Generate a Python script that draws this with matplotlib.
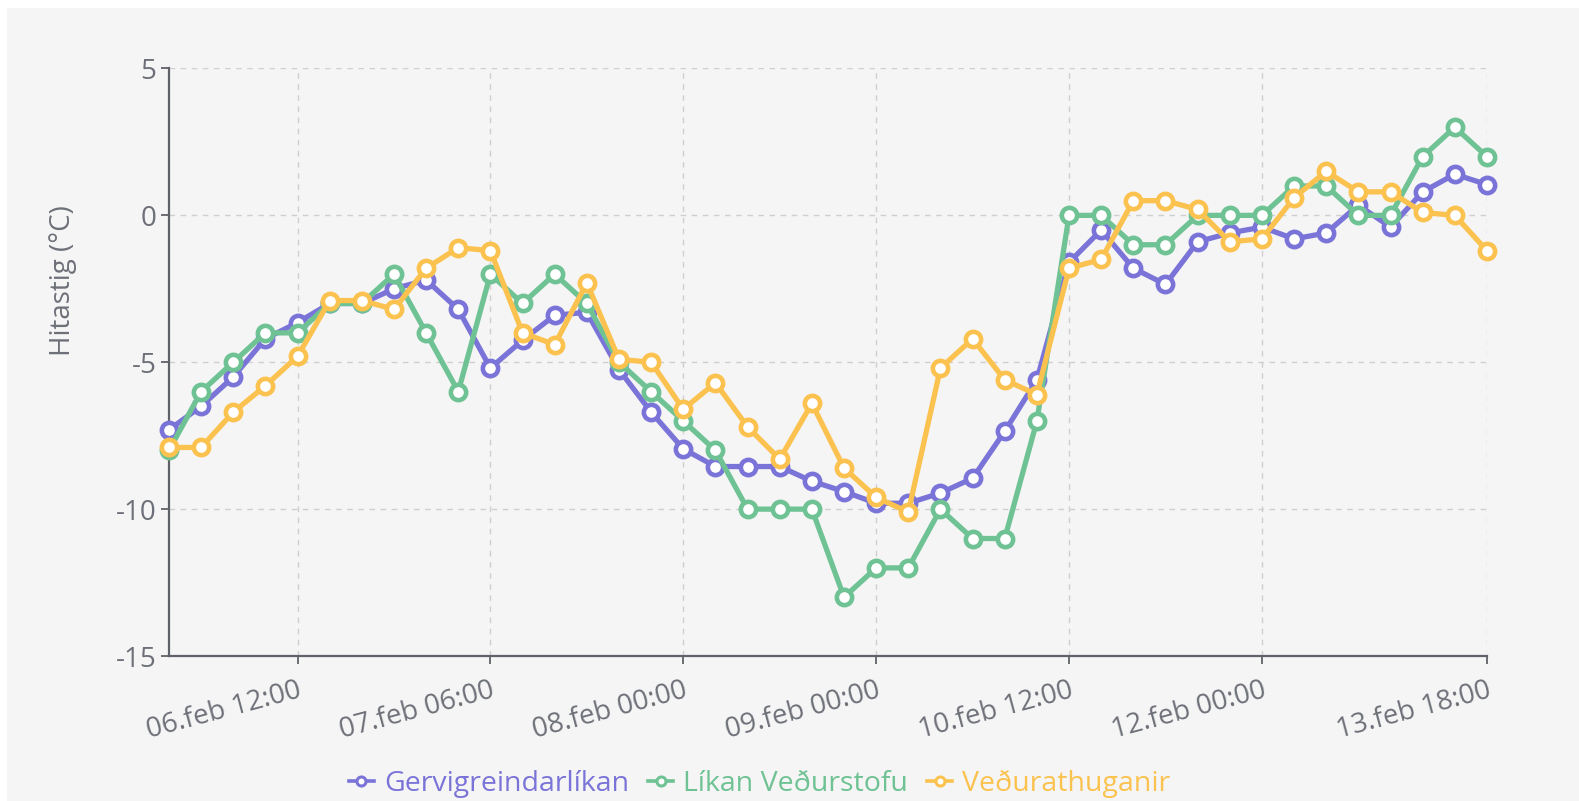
import matplotlib
matplotlib.use("Agg")
import matplotlib.pyplot as plt
from matplotlib.patches import Rectangle
from matplotlib.lines import Line2D

plt.rcParams["font.family"] = ["Open Sans", "DejaVu Sans"]
plt.rcParams["axes.unicode_minus"] = False

# temperature series, one value per forecast step (42 steps)
gervigreind = [
    -7.3, -6.5, -5.5, -4.2, -3.65, -3.0, -3.0, -2.5, -2.2, -3.2,
    -5.2, -4.25, -3.4, -3.3, -5.25, -6.7, -7.95, -8.55, -8.55, -8.55,
    -9.05, -9.4, -9.8, -9.8, -9.45, -8.95, -7.35, -5.6, -1.6, -0.5,
    -1.8, -2.35, -0.9, -0.6, -0.4, -0.8, -0.6, 0.35, -0.4, 0.8,
    1.4, 1.05,
]
likan_vedurstofu = [
    -8, -6, -5, -4, -4, -3, -3, -2, -4, -6,
    -2, -3, -2, -3, -5, -6, -7, -8, -10, -10,
    -10, -13, -12, -12, -10, -11, -11, -7, 0, 0,
    -1, -1, 0, 0, 0, 1, 1, 0, 0, 2,
    3, 2,
]
vedurathuganir = [
    -7.9, -7.9, -6.7, -5.8, -4.8, -2.9, -2.9, -3.2, -1.8, -1.1,
    -1.2, -4.0, -4.4, -2.3, -4.9, -5.0, -6.6, -5.7, -7.2, -8.3,
    -6.4, -8.6, -9.6, -10.1, -5.2, -4.2, -5.6, -6.1, -1.8, -1.5,
    0.5, 0.5, 0.2, -0.9, -0.8, 0.6, 1.5, 0.8, 0.8, 0.1,
    0.0, -1.2,
]
series_names = ["Gervigreindarlíkan", "Líkan Veðurstofu", "Veðurathuganir"]
series_colors = ["#7b74d8", "#6fc293", "#fbc24f"]

tick_idx = [4, 10, 16, 22, 28, 34, 41]
tick_labels = ["06.feb 12:00", "07.feb 06:00", "08.feb 00:00", "09.feb 00:00",
               "10.feb 12:00", "12.feb 00:00", "13.feb 18:00"]
y_ticks = [-15, -10, -5, 0, 5]

BG = "#f5f5f5"
AXIS = "#606269"
TXT = "#6e7079"
GRID = "#cfcfcf"

fig = plt.figure(figsize=(15.79, 8.01), dpi=100, facecolor="white")
fig.patches.append(Rectangle((7 / 1579, 0), 1, 1 - 8 / 801, transform=fig.transFigure,
                             facecolor=BG, edgecolor="none", zorder=-10))
ax = fig.add_axes([0.1070, 0.181, 0.8347, 0.7335])
ax.set_facecolor(BG)

x = list(range(len(gervigreind)))
for vals, name, col in zip([gervigreind, likan_vedurstofu, vedurathuganir],
                           series_names, series_colors):
    ax.plot(x, vals, color=col, lw=3.8, marker="o", ms=11, mew=3.3,
            mfc="white", mec=col, label=name, clip_on=False, zorder=3)

ax.set_xlim(0, len(x) - 1)
ax.set_ylim(-15, 5)
ax.set_yticks(y_ticks)
ax.set_xticks(tick_idx)
ax.set_xticklabels(tick_labels, rotation=15, ha="right", va="top",
                   rotation_mode="anchor")

ax.grid(True, color=GRID, ls=(0, (4, 4)), lw=1.0)
ax.set_axisbelow(True)
for s in ["top", "right"]:
    ax.spines[s].set_visible(False)
for s in ["left", "bottom"]:
    ax.spines[s].set_color(AXIS)
    ax.spines[s].set_linewidth(1.6)
ax.tick_params(axis="both", colors=AXIS, labelcolor=TXT, labelsize=20,
               length=6, width=1.3)
ax.tick_params(axis="y", pad=3)
ax.tick_params(axis="x", pad=9)

fig.text(63 / 1579, 1 - 281 / 801, "Hitastig (°C)", rotation=90, ha="center",
         va="center", fontsize=20, color=TXT)

handles = [Line2D([0], [0], color=c, lw=2.6, marker="o", ms=6.5, mew=2.2,
                  mfc="white", mec=c) for c in series_colors]
leg = fig.legend(handles, series_names, loc="center", ncol=3,
                 bbox_to_anchor=(0.481, 0.021), frameon=False, fontsize=20.5,
                 handlelength=0.9, handletextpad=0.35, columnspacing=0.65)
for t, c in zip(leg.get_texts(), series_colors):
    t.set_color(c)

fig.savefig("out.png", dpi=100, facecolor=fig.get_facecolor())
